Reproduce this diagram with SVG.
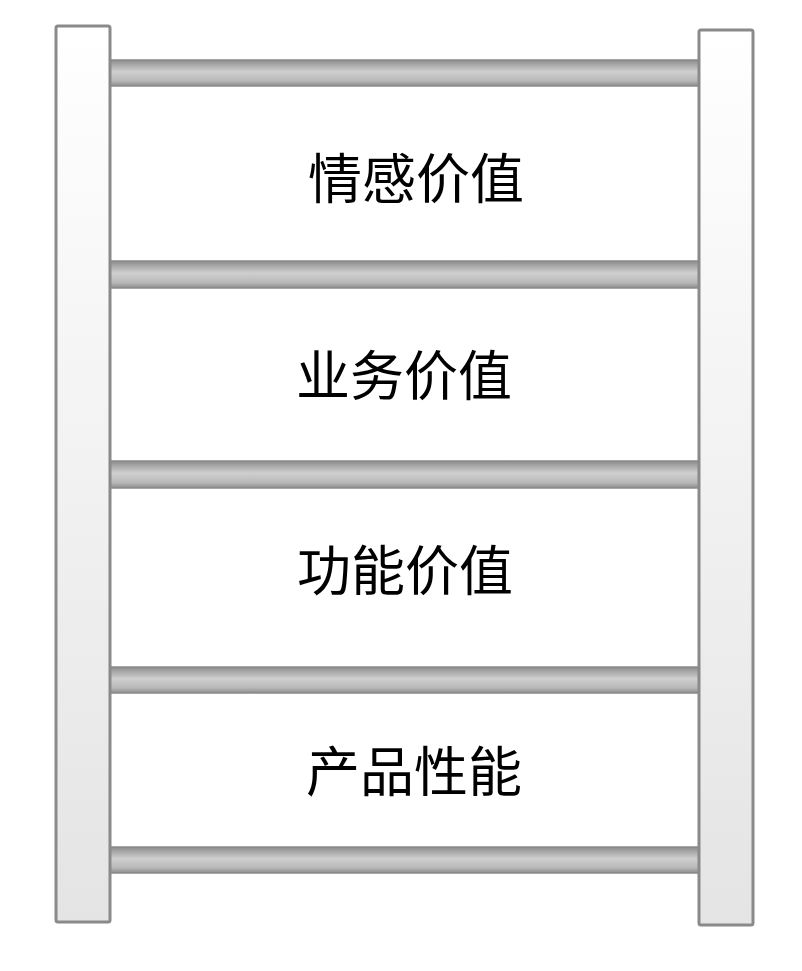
<svg xmlns="http://www.w3.org/2000/svg" width="802" height="971" viewBox="0 0 802 971">
<defs>
<linearGradient id="postG" x1="0" y1="0" x2="0" y2="1">
<stop offset="0" stop-color="#ffffff"/>
<stop offset="1" stop-color="#e4e4e4"/>
</linearGradient>
<linearGradient id="rungG" x1="0" y1="0" x2="0" y2="1">
<stop offset="0" stop-color="#8c8c8c"/>
<stop offset="0.18" stop-color="#a8a8a8"/>
<stop offset="0.45" stop-color="#cfcfcf"/>
<stop offset="0.8" stop-color="#b8b8b8"/>
<stop offset="1" stop-color="#8c8c8c"/>
</linearGradient>
</defs>
<style>
.post{fill:url(#postG);stroke:#8a8a8a;stroke-width:3}
.rung{fill:url(#rungG);stroke:#8a8a8a;stroke-width:1.5}
.lbl{font-family:"Noto Sans CJK SC","Noto Sans",sans-serif;font-size:54px;fill:#000;text-anchor:middle}
</style>
<rect width="802" height="971" fill="#ffffff"/>
<g id="rungs">
<rect class="rung" x="110" y="60" width="590" height="26"/>
<rect class="rung" x="110" y="261" width="590" height="27"/>
<rect class="rung" x="110" y="461" width="590" height="27"/>
<rect class="rung" x="110" y="667" width="590" height="26"/>
<rect class="rung" x="110" y="847" width="590" height="26"/>
</g>
<g id="post-left"><rect class="post" x="56" y="26" width="54" height="896" rx="2"/></g>
<g id="post-right"><rect class="post" x="699" y="30" width="54" height="895" rx="2"/></g>
<g id="n1"><text class="lbl" x="416" y="199">情感价值</text></g>
<g id="n2"><text class="lbl" x="404" y="396">业务价值</text></g>
<g id="n3"><text class="lbl" x="405" y="591">功能价值</text></g>
<g id="n4"><text class="lbl" x="414" y="792">产品性能</text></g>
</svg>
